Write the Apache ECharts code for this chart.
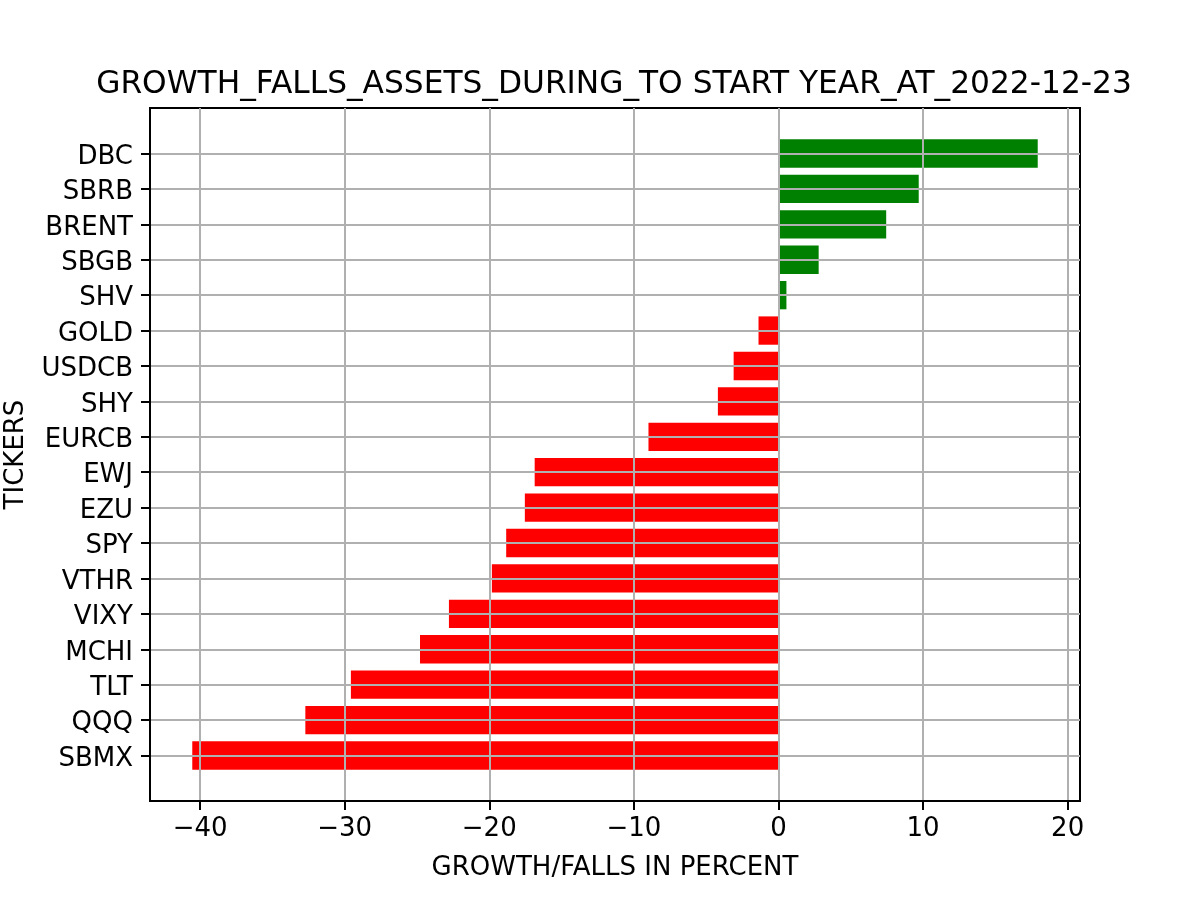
<!DOCTYPE html>
<html>
<head>
<meta charset="utf-8">
<script src="https://cdn.jsdelivr.net/npm/echarts@6/dist/echarts.min.js"></script>
<style>html,body{margin:0;padding:0;background:#fff}#c{width:1200px;height:900px}</style>
</head>
<body>
<div id="c"></div>
<script>
const tickers = ['DBC','SBRB','BRENT','SBGB','SHV','GOLD','USDCB','SHY','EURCB','EWJ','EZU','SPY','VTHR','VIXY','MCHI','TLT','QQQ','SBMX'];
const values = [17.93, 9.70, 7.45, 2.78, 0.55, -1.38, -3.10, -4.19, -8.99, -16.86, -17.54, -18.83, -19.82, -22.79, -24.79, -29.57, -32.72, -40.54];
const xTicks = [-40, -30, -20, -10, 0, 10, 20];
const titleText = 'GROWTH_FALLS_ASSETS_DURING_TO START YEAR_AT_2022-12-23';
const xName = 'GROWTH/FALLS IN PERCENT';
const yName = 'TICKERS';

const dMin = Math.min(0, ...values), dMax = Math.max(0, ...values);
const pad = (dMax - dMin) * 0.05;
const xMin = dMin - pad, xMax = dMax + pad;
const FONT = 'DejaVu Sans';
const minus = v => String(v).replace('-', '\u2212');

const chart = echarts.init(document.getElementById('c'), null, {renderer: 'canvas'});
chart.setOption({
  animation: false,
  backgroundColor: '#ffffff',
  textStyle: {fontFamily: FONT},
  title: {
    text: titleText, left: 609, textAlign: 'center', top: 64,
    textStyle: {fontFamily: FONT, fontSize: 31.25, fontWeight: 'normal', color: '#000'}
  },
  grid: [
    {left: 150, right: 120, top: 108, bottom: 99, show: true, borderColor: '#000', borderWidth: 2, backgroundColor: 'transparent', containLabel: false, outerBoundsMode: 'none'},
    {left: 150, right: 120, top: 153.5, bottom: 144.5, containLabel: false, outerBoundsMode: 'none'}
  ],
  xAxis: [
    {
      gridIndex: 0, type: 'value', min: xMin, max: xMax, z: 3,
      name: xName, nameLocation: 'middle', nameGap: 54,
      nameTextStyle: {fontFamily: FONT, fontSize: 26, color: '#000'},
      axisLine: {show: true, onZero: false, lineStyle: {color: '#000', width: 2}},
      axisTick: {show: true, length: 9, lineStyle: {color: '#000', width: 2}, customValues: xTicks},
      axisLabel: {show: true, margin: 15, fontSize: 26, color: '#000', fontFamily: FONT, customValues: xTicks, formatter: minus},
      splitLine: {show: true, lineStyle: {color: '#b0b0b0', width: 2}}
    },
    {
      gridIndex: 1, type: 'value', min: xMin, max: xMax, show: false,
      splitLine: {show: false}
    }
  ],
  yAxis: [
    {
      gridIndex: 0, type: 'value', min: 0, max: 1, z: 3,
      name: yName, nameLocation: 'middle', nameGap: 121, nameRotate: 90,
      nameTextStyle: {fontFamily: FONT, fontSize: 26, color: '#000'},
      axisLine: {show: true, onZero: false, lineStyle: {color: '#000', width: 2}},
      axisTick: {show: false}, axisLabel: {show: false}, splitLine: {show: false}
    },
    {
      gridIndex: 1, type: 'category', data: tickers, inverse: true, boundaryGap: false, z: 3,
      axisLine: {show: false, onZero: false},
      axisTick: {show: true, length: 9, lineStyle: {color: '#000', width: 2}},
      axisLabel: {show: true, margin: 17, fontSize: 26, color: '#000', fontFamily: FONT, interval: 0, verticalAlign: 'top', lineHeight: 7},
      splitLine: {show: true, interval: 0, lineStyle: {color: '#b0b0b0', width: 2}}
    }
  ],
  series: [{
    type: 'bar', xAxisIndex: 1, yAxisIndex: 1, z: 1, clip: false,
    barWidth: '80%',
    data: values,
    itemStyle: {color: p => p.value >= 0 ? '#008000' : '#ff0000'}
  }]
});
</script>
</body>
</html>
